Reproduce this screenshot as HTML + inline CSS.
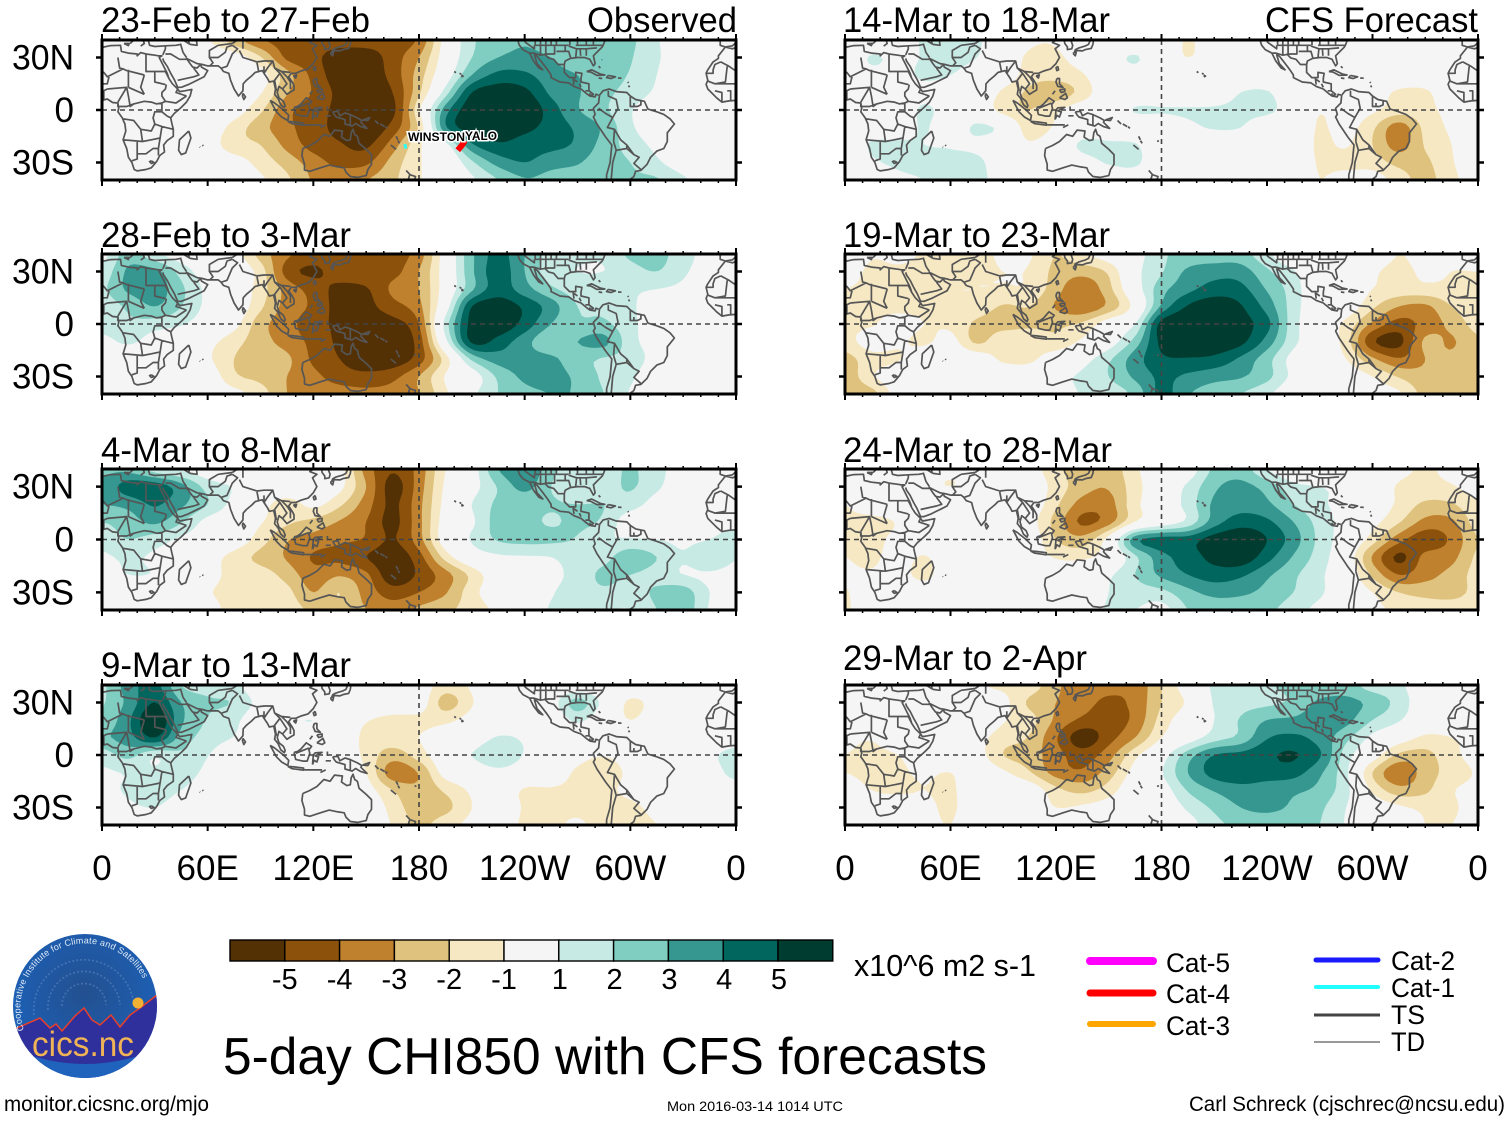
<!DOCTYPE html>
<html lang="en">
<head>
<meta charset="utf-8">
<title>5-day CHI850 with CFS forecasts</title>
<style>
html,body{margin:0;padding:0;background:#fff;}
svg{display:block;font-family:"Liberation Sans",Arial,sans-serif;}
</style>
</head>
<body>
<svg id="chart" width="1510" height="1121" viewBox="0 0 1510 1121"></svg>
<script>
/* ---------- DATA: CHI850 anomaly grids, rows 40N..40S every 10 deg, columns 0..360 every 15 deg ---------- */
const periodLabels = ["23-Feb to 27-Feb","28-Feb to 3-Mar","4-Mar to 8-Mar","9-Mar to 13-Mar","14-Mar to 18-Mar","19-Mar to 23-Mar","24-Mar to 28-Mar","29-Mar to 2-Apr"];
const contourLevels = [1,2,3,4,5];
const colorbarLabels = ["-5","-4","-3","-2","-1","1","2","3","4","5"];
const lonTickLabels = ["0","60E","120E","180","120W","60W","0"];
const lonTickValues = [0,60,120,180,240,300,360];
const latTickLabels = ["30N","0","30S"];
const latTickValues = [30,0,-30];
const latRows = [40,30,20,10,0,-10,-20,-30,-40];

const chiFeb23 = [
[0,0,0,0,-.9,-2.6,-3.9,-4.4,-4.5,-4.5,-4.5,-4.5,-3.8,-.5,1.8,2.5,2.9,2.5,2.3,2.3,2.2,1.1,.3,-.5,0],
[0,0,0,0,0,-.3,-1.9,-4.2,-4.7,-5.6,-5.6,-4.5,-3,-.3,2,3,3.3,3,2.5,3,2.1,1.1,.5,-1,0],
[0,0,0,0,0,0,-.5,-2.6,-4.3,-5.6,-5.7,-4.6,-2.5,.2,3,4.3,4.2,3.4,3,2.6,1.9,1,.3,0,0],
[0,-1,0,0,0,0,-.9,-2.9,-4.1,-5.3,-5.8,-5,-2.2,1.5,5,5.6,5.3,3.8,3.1,2.3,1.6,.8,0,0,0],
[0,0,0,0,0,-.4,-1.8,-3.7,-4.5,-5.3,-5.8,-5.3,-1.2,3.5,5.7,5.9,5.9,4.5,3.1,2.2,1.1,.2,0,0,0],
[0,0,0,0,-.2,-1.4,-2.6,-3.7,-4.6,-5.3,-5.8,-4.6,-1.8,3.8,5.6,5.8,5.3,4.6,3.8,2.8,1.2,.3,0,0,0],
[0,0,0,0,-.4,-1.6,-2,-3.3,-4.4,-4.9,-5.2,-3.5,-1.2,.6,3.8,4.8,4.5,4.3,3.8,2.6,1.6,.7,0,0,0],
[0,0,0,0,0,-.4,-1.4,-2.4,-3.5,-4.3,-4.2,-2.6,-1.1,-.3,1.8,3.4,4,3.4,3.1,2.3,2,1.2,.3,0,0],
[0,0,0,0,0,0,-.8,-1.8,-3.1,-3.2,-3,-2.2,-1.1,-.2,.8,2,2.9,2.6,2.4,2.2,2.1,2.1,1.2,.3,0]];

const chiFeb28 = [
[.6,2.5,1.2,.4,0,-.5,-2.4,-3.8,-4.4,-4.4,-4.4,-4.4,-3.5,-.3,2.8,4.3,3,1.5,1.2,1.2,2.2,2.3,1.5,.5,.6],
[1.3,3.2,3.3,1.6,.4,0,-1.5,-4.4,-5.2,-4.4,-4.2,-4.3,-3,-.3,2.8,4.5,3,1.4,1,1,1.6,2,1.2,.3,0],
[1.8,3.2,3.5,2.2,.7,0,-1.5,-3.4,-4.4,-5.3,-5.1,-3.8,-3,-.3,2.8,4.5,3.4,2.2,1.6,1.8,1.2,1,.7,0,0],
[1.4,2.2,3,2,.7,0,-1.8,-3.4,-4.2,-5.4,-5.3,-4.4,-3.3,.3,5,5.6,4.8,3.5,2,1.8,1.2,.3,0,0,.3],
[1.5,1.8,1.5,1.1,.3,-.6,-2.6,-3.6,-4.6,-5.2,-5.4,-5.4,-4,1.4,5.4,5.8,4.6,3,2.2,2.2,1.3,.3,0,0,1],
[.6,1.2,.4,0,-.6,-1.6,-2.6,-3.4,-4.3,-5.2,-5.5,-5.7,-4.5,.6,5.2,4.6,3.4,2.2,3,3.3,1.4,.5,.3,.1,.8],
[0,0,0,0,-.8,-2,-2.4,-2.8,-4.2,-5,-5.6,-5.7,-4.5,-1.5,2.2,3.5,3.4,3.2,2.4,1.9,1.6,.5,0,0,0],
[0,0,0,0,-.2,-1.8,-2.3,-3,-3.7,-4.5,-4.7,-4.3,-3,-.9,.3,2.2,3.2,3.3,2.8,1.8,1.2,.1,0,0,0],
[0,0,0,0,-.1,-.6,-1.5,-3,-3.3,-3.5,-3.7,-3.6,-3,-1.2,.7,2,2.7,3,2.9,2,.9,.2,0,0,0]];

const chiMar04 = [
[2.8,2.7,1.5,.8,.2,0,0,0,0,-.6,-3.4,-4.9,-3.6,-1,.4,3,3.9,2.3,1.2,1.5,2.1,1.4,.3,0,0],
[3.2,4.5,4.6,3.4,1.6,.9,0,0,0,-.7,-3,-5.4,-3.5,-.8,.5,2.1,3.3,2,1.2,1.5,2.1,1.2,.2,0,0],
[3,3.3,4.1,3.2,2,.6,-.5,-1.5,-.7,-1.8,-3.5,-5.2,-3.3,-.6,1,2.2,2.3,2.1,2,2,1.5,.5,0,0,0],
[2,2.5,3.2,2.1,.6,0,-.9,-1.8,-2.3,-3.1,-4,-5.3,-3.3,-.4,.8,2.4,2.3,1.9,2.2,1.8,.3,.3,.7,.5,.5],
[1.4,2,1.5,.8,.3,-.2,-1.5,-2.9,-3.4,-3.8,-4.1,-5.1,-3.4,-.3,1.1,2.1,2.3,2.2,1.9,1.1,1.1,1,.8,1,1.6],
[.8,1.2,.8,.4,-.4,-1.4,-2.3,-3.1,-4.1,-4.3,-5,-5.7,-4.4,-1.6,.2,.8,.9,1,1.5,1.7,2.6,2,1.1,2,1.1],
[.3,1,.9,.1,-.6,-1.3,-1.5,-2.4,-3.6,-3.1,-3.8,-5.7,-4.8,-3.4,-1.7,-.1,.5,.7,1.4,2.2,2,1.6,1,.8,.5],
[0,0,0,0,-.9,-1.2,-1.2,-1.7,-3,-2,-3.4,-4.5,-4,-3.1,-1.4,-.2,.2,.9,1.5,1.8,1.5,2.2,2.5,1,.3],
[0,0,0,0,-.6,-1.3,-1.3,-1.5,-2.2,-2.3,-3,-3.5,-2.8,-2.2,-1.6,-.7,.1,1.1,1.2,1.1,1,2,2.6,.9,.2]];

const chiMar09 = [
[1.8,3.5,4.3,2,1.5,1.3,0,0,0,0,-.2,-.5,-.3,-1.5,-.8,.7,.7,0,0,0,0,0,1.1,.3,0],
[1.9,3.3,5,3,2.2,1.9,.6,0,0,0,0,-.2,-.3,-2.4,-1.1,.5,.3,.5,2.4,.6,-1.2,-.5,0,0,0],
[2.2,3.8,6,3.2,1.9,1.3,.1,.7,1,0,-.9,-1.3,-1.3,-1.3,-.5,0,0,0,1.2,0,-1,-.2,0,0,.5],
[2.8,3.6,5,2.6,1.6,.95,0,0,0,0,-1.3,-1.4,-1,-.1,.1,1.1,.8,0,0,0,0,0,0,0,.3],
[1.5,2.3,1.2,1.8,1.05,0,0,0,0,0,-1.3,-2.5,-1.5,0,1,2,.9,0,-.5,-.9,-.3,0,0,.7,1.5],
[.8,1.1,1.2,1.5,.7,0,0,-1,-.5,-.1,-1,-3.6,-2.9,-.5,0,.6,.1,-.3,-1.2,-1.9,-.6,0,0,.3,1.5],
[.5,1.2,1.6,1,.3,0,0,-.2,-.1,0,-.5,-2,-2.8,-1.8,-.8,-.2,-1.1,-1.1,-1.2,-1.3,-.6,0,0,0,.2],
[0,.7,1,.2,0,0,0,0,0,0,0,-1.4,-2.6,-2.3,-1,-.2,-1.1,-1.2,-1.3,-1.6,-1.3,-.6,0,0,0],
[0,0,0,0,0,0,0,0,0,0,0,-1.1,-2.2,-1.4,-.7,-.3,-1.2,-1.3,-.8,-1.5,-1.2,-1,0,0,0]];

const chiMar14 = [
[0,0,.2,1.2,2,1.2,.1,-.8,-.9,-.2,0,0,-.1,-1.1,-.3,0,0,0,.6,0,0,0,.2,.8,0],
[0,1.1,.7,1.1,1.8,1,-.1,-1.2,-1.2,-.4,.4,1.1,0,-1,-.2,0,0,0,0,0,0,0,0,0,0],
[0,.6,.5,1.2,1,0,-.2,-1.5,-1.6,-1.1,.1,.5,0,0,0,0,0,0,0,0,0,0,0,0,0],
[0,0,0,.6,.1,0,-1.2,-2.2,-2.6,-1.6,0,0,0,0,0,1,1.1,0,0,0,-.3,-1.2,-1.2,0,0],
[.6,.4,0,1.2,.3,0,-1.4,-2,-1.2,-.2,0,1.1,1.1,1.1,1.2,1.3,1.3,.2,-.9,-.3,-.8,-1.5,-1.3,-.6,0],
[1,.5,.3,1.1,.2,1.2,.6,-1.6,-.8,.2,.1,0,.1,.7,1.1,1,0,0,-1.1,-.6,-1.8,-3.5,-1.7,-.8,0],
[.2,1.1,1.2,1,.9,.7,0,-.8,0,1.2,1.2,1.1,0,0,0,0,0,0,-1.2,-.9,-2,-3.4,-1.9,-1,0],
[0,.8,1.2,1.3,1.2,1.3,.1,0,0,.5,1.1,1.2,0,0,0,0,0,-.3,-1.1,-1.4,-1.5,-2.3,-2.2,-1.1,-.2],
[0,0,.7,1,1.2,1.4,.3,0,0,0,0,.2,0,0,0,0,0,0,-1,-.4,-.4,-1.5,-2.3,-1.3,-.3]];

const chiMar19 = [
[0,-.9,-.7,-1.1,-1.3,-1.2,-.9,-.9,-2,-1.2,-.3,.5,1.8,2.3,2.4,2.4,1.2,0,0,0,-.2,-1,-.6,-.9,-.6],
[-.5,-1.2,-1.2,-1.3,-1.3,-1.2,-1,-1.1,-2.3,-2.6,-1.8,.6,1.9,3.2,3.6,3.5,2.2,1.1,0,0,-.8,-1.3,-.8,-1,-1],
[-1,-1.2,-1.3,-1.8,-1.1,-1,-1.1,-1.2,-2.6,-3.8,-2.3,.3,2.6,3.7,4.4,4.3,2.9,1.5,0,0,-1,-1.4,-1.3,-1.2,-1.2],
[-1.2,-1.3,-1.3,-1.3,-1.1,-1.4,-2.1,-2,-3.1,-3.8,-2.7,-.5,3.2,5.1,5.7,5.1,3.6,1.5,0,-.2,-1.8,-3,-3.2,-2,-1.3],
[-1.2,-1.1,-.5,-1,-1.2,-2.2,-2.4,-2.2,-2.2,-1.8,-.3,1,5.4,6,6,5.4,4.3,1.4,0,-1.3,-3.2,-4.4,-3.6,-2.7,-1.6],
[-1.4,-.5,-.8,-1.2,-.6,-2.2,-1.2,-1.2,-1.7,-.8,.3,2.4,5.3,6,5.9,5.3,3.6,1.3,0,-1.5,-4.8,-5.3,-2.8,-3.1,-2.2],
[-2.4,-1.4,-1.1,-.1,0,-.2,-1.2,-1.2,-.3,.5,1.8,3.5,4.8,4.9,4.7,3.8,2.4,.6,0,-1,-2.8,-3.9,-3,-2.8,-2.4],
[-2.7,-1.2,-.2,0,0,0,0,-.2,.6,1.2,2,3.2,4.2,3.8,3.4,3.1,2.3,.7,0,-.3,-1,-2.1,-2.8,-2.7,-2.6],
[-2.6,-2.4,-.5,0,0,0,0,0,.3,1.1,1.3,2.3,4.3,3.1,2.4,2,1.2,.1,0,-.8,-.6,-.8,-2.4,-2.8,-2.7]];

const chiMar24 = [
[0,-.2,0,-.7,-.8,-.9,-.2,-.5,-1.7,-2.7,-2.7,-1.2,-.2,.3,2.2,2.5,1,0,0,0,0,-.7,-1.1,-.7,-.2],
[-.2,0,0,-.6,-1,-.5,0,-.2,-1.4,-2.6,-2.9,-1.4,0,1.2,2.8,3.3,2.6,1.3,1,.7,-.2,-1.1,-1.3,-1.1,-.5],
[-1,-.2,0,0,0,0,0,-.2,-1.8,-3.4,-3.4,-1.3,0,1.4,3.2,3.6,3.2,2,1.2,.6,-.2,-1.2,-2.2,-2.1,-1.1],
[-1.2,-1.4,-.9,0,0,-.3,-.6,-.6,-2.4,-4.2,-3.4,-1,.2,1.3,3.5,4.5,4.2,3,1.6,.5,-.6,-1.9,-3.3,-3.2,-1.5],
[-1.5,-1.4,-.6,0,0,0,0,-.2,-2,-2.6,-.5,3.6,4.4,4.5,5.5,5.9,5,3.5,1.7,.3,-1.5,-3.6,-4.6,-3.8,-2],
[-1,-1.3,-.4,-1.1,0,-.3,-.3,-.3,-1.1,-1.2,-.4,1.8,3.6,4.5,5.3,5.7,4.4,2.9,1.5,-.1,-3.1,-5.2,-3.7,-3.3,-1.8],
[-.8,-.8,-.4,-1.4,0,-.8,-.9,0,-.2,0,.8,2,3.2,4,4.5,4.2,3.2,2.2,1.2,0,-2.2,-4,-3.3,-2.7,-1.6],
[-1.1,-.2,0,0,0,0,0,0,0,0,1,1.5,1.7,2.7,3.3,3.2,2.7,2,1.2,-.1,-1,-2,-2.4,-2.5,-1.6],
[-1.2,-.1,0,0,0,0,0,0,0,.4,1.1,1,.6,2,2.4,2.4,2.2,1.5,.6,-.3,-.8,-1.1,-1.2,-1.2,-1.3]];

const chiMar29 = [
[0,0,0,0,-.5,-.9,-1.2,-1.4,-2.8,-3.5,-3.7,-3.7,-2,-.3,1.2,1.4,1.9,2.2,2.2,2.4,1.5,1.2,.2,.3,0],
[0,0,0,0,0,-.4,-.7,-2.2,-3,-3.6,-4.2,-3.7,-2,-.8,1.1,1.6,1.8,2.2,3.2,3.3,2.7,1.6,.2,0,0],
[0,0,0,0,0,0,-.9,-1.6,-3.2,-4.2,-4.5,-3.7,-1.6,-.2,1,2.1,3,3.2,3.6,3.3,2,1.1,0,0,0],
[-.7,-.9,-.3,0,0,-.6,-1.5,-2.1,-3.9,-5.6,-4.4,-3,-1,.3,1.5,2.3,3.9,4.2,3.6,2.3,.7,-.3,-1.2,-1,-.6],
[-1,-1.2,-1,-.3,0,-.5,-2,-2.5,-3.6,-4.5,-3.4,-1.3,.4,2.5,4,4.3,4.8,5.1,4.1,1.5,-.3,-2.2,-2.3,-1.3,-.6],
[-1,-1.3,-1.2,-.8,-1,-.1,-.8,-1.9,-3.4,-3.8,-2.5,-.5,.9,3,4.4,4.7,4.6,4.4,3.2,1.2,-2,-3.8,-2.5,-1.6,-.9],
[-.3,-1,-1.2,-1,-1.2,0,0,-.2,-1.7,-2.3,-1.5,0,.4,2.1,3.1,3.6,3.4,3.2,2.7,1.3,-1.2,-2.6,-2.2,-1.1,-.7],
[0,-.2,-.2,-.6,-1.2,0,0,0,-1,-.8,-.4,0,0,1.2,2.2,3,3.3,2.8,2.2,1,-.1,-.8,-1.2,-1.2,-.3],
[0,0,0,-.6,-1,-.1,0,0,0,0,0,0,0,.5,1.7,2.2,2.2,2.2,2,.9,0,-.3,-1,-1,-.4]];

const panelGrids = [chiFeb23,chiFeb28,chiMar04,chiMar09,chiMar14,chiMar19,chiMar24,chiMar29];

/* Tropical cyclone labels and short tracks in the first panel (lon, lat). */
const stormNames = ["WINSTON","YALO"];
const winstonTrack = [[172,-19.5],[172.5,-22]];
const yaloTrack = [[206,-17.5],[204.5,-20],[202,-23]];

/* Geography as lon/lat polylines. */
const coastlines = [
[[-6,36],[-10,31],[-10,29.5],[-13,27.5],[-16,23],[-17,21],[-16,17],[-17,14.7],[-16,12],[-13.5,9.5],[-11,7],[-8,4.5],[-4,5.2],[0,5.5],[3,6.3],[6,4.3],[9,4],[9.5,1],[9,-1],[11.5,-4.5],[13,-8],[13.5,-12],[12,-17],[14,-22],[15,-27],[17,-30],[18.3,-34],[20,-34.8],[25,-34],[28,-33],[31,-29.5],[32.8,-26],[35.5,-24],[35,-20],[37,-17.5],[40.5,-15],[40.5,-11],[39.5,-7],[39,-4.5],[41,-2],[45,1.5],[48,4.5],[50,8],[51,11.8],[47,11],[44,10.5],[43,12],[40,15],[38,18],[37,21],[35.5,24],[33.5,28],[32.5,30],[34,31],[32,31],[30,31.3],[25,32],[22,32.8],[20,31],[20,32],[15,32.5],[11,33.5],[10.5,37],[5,36.8],[0,35.8],[-2,35],[-6,36]],
[[34.5,29.5],[35,28],[37,25],[39,21],[41,17.5],[43,13],[45,13],[49,14.5],[52,16],[55,17.5],[58,19],[60,22.5],[56.5,24.5],[56,26],[54,24],[51.5,24.5],[50,26.5],[48,29.5],[51,28],[54,26.5],[57,26],[60,25.2],[66,25.2],[67.5,24],[69,22],[72,21],[73,17],[75,12],[77.5,8],[80,11],[80.2,15],[82,17],[85,19.5],[87,21.5],[89,22],[91,22.5],[92,21],[94,18],[95,16],[97.5,16.5],[98.5,12],[98,9],[100,6.5],[101.5,3],[103.5,1.3],[104,2.5],[103,5],[100.5,7],[99.5,10],[100.5,13.5],[102.5,12],[105,9],[106.5,10],[109,11.5],[109,14],[108,16],[106,19],[107.5,21],[110,21],[113,22.3],[117,23.5],[120,26.5],[122,30],[121,32],[119.5,35],[122,37],[118,38.5],[121.5,41]],
[[124.5,41],[125,38],[126.5,36],[126.5,34.5],[129,35],[129.5,37],[128,41]],
[[130.5,33],[132,34],[135,33.8],[137,34.6],[140,35.2],[141,37.5],[141.5,41]],[[140,41],[138.5,37.5],[136.5,36.5],[133,35.5],[131,34.4],[130.5,33]],[[130,33],[131.5,33],[131,31],[130,32],[130,33]],
[[34.5,31.5],[36,35],[36,36.7],[30,36.3],[27,37],[26,41]],[[50,37.5],[54,37],[53.5,41]],[[49,41],[49.5,38],[50,37.5]],[[22,36.5],[24,38],[23,41]],[[16,38],[18,40],[16,41]],[[-6,36],[-2,36.7],[0,38.5],[0,41]],[[-6,36],[-9,37],[-9,41]],[[12.5,38],[15.5,38],[15,36.8],[12.5,38]],
[[80,9.5],[81.5,7.5],[80.5,6],[79.8,8],[80,9.5]],[[121,25],[121.5,23],[120.5,22.5],[120,24],[121,25]],[[108.7,19.5],[110.5,20],[110,18.3],[108.7,19.5]],
[[120.5,18],[122,18],[122,15],[124,13],[121,13.5],[120,16],[120.5,18]],[[122,7],[125.5,9.5],[126.5,7],[125,6],[122,7]],[[122,11.5],[125,12],[125,10.5],[123,10],[122,11.5]],[[118,9],[119.5,11]],
[[109,1.5],[111,2],[113,3.5],[116,7],[119,5],[117.5,3],[118,1],[116.5,-3.5],[114,-3.5],[110,-2.5],[109,1.5]],
[[95.5,5.5],[98,4],[103,0],[106,-3],[105.5,-6],[102,-4],[99,-1],[95.5,5.5]],
[[105.5,-6.5],[109,-6.8],[114.5,-7.5],[114.5,-8.7],[108,-7.8],[105.5,-6.5]],[[115,-8.5],[120,-8.5],[125,-8.5]],[[124,-10],[127,-8.5]],
[[119.5,-5.5],[120,0],[121,1.2],[125,1.5],[121,-.5],[123,-1],[122,-4],[120.5,-3],[119.5,-5.5]],[[128,2],[128,-.5]],[[127,-3.3],[130,-3.3]],
[[131,-1],[134,-.8],[135,-3.3],[138,-1.7],[141,-2.6],[145,-4.5],[147.5,-6],[147,-7],[150.5,-10.5],[147,-9.5],[144,-7.7],[142,-9.2],[138,-8],[138,-5.5],[133,-4],[132,-2.8],[131,-1]],
[[148,-5.7],[152,-4.3],[151,-6],[148,-5.7]],[[155,-6],[157,-8]],[[158,-8],[160.5,-9.5]],[[161,-9.5],[162,-10.5]],[[167,-15],[168,-17]],[[168,-17.5],[169,-19]],[[164,-20],[167,-22.5]],[[177.5,-18],[178.5,-17.5]],
[[172.7,-34.5],[175,-37],[178,-38],[177,-41]],[[174,-41],[174,-39.5],[174.7,-37]],
[[114,-22],[113.5,-26],[115,-31],[115,-34.3],[118,-35],[124,-33],[129,-31.5],[134,-32.5],[137.5,-33],[138.5,-35.5],[141,-38],[145,-38.5],[150,-37.5],[151,-34],[153,-31],[153,-25.5],[150,-22.5],[146,-19],[145,-15],[143.5,-14],[142.5,-11],[141.5,-13],[141,-17],[139,-17.5],[136,-15.5],[136.5,-12],[132,-11.5],[129.5,-15],[126,-14],[122,-18],[118,-20.3],[114,-22]],
[[49.3,-12],[50.5,-16],[47.5,-24.5],[45,-25.5],[43.5,-23],[44,-17],[49.3,-12]],[[57,-20],[57.5,-20.5]],[[55.5,-21],[55.7,-21.3]],
[[200,22],[201,21.3]],[[203,21],[204,20.5]],[[204,20],[205,19.3],[204,19]],
[[235.7,41],[237,37],[239,34.5],[242.8,32.5],[245,28],[248,24],[250.3,23],[247,26.5],[245.5,31.5],[247,30.8],[250,27],[253,23],[255,20],[255,18.5],[260,16],[265,15.5],[268,13.5],[272,12],[275,9.5],[277,8],[280,7.5],[280.5,9],[282,8.5]],
[[277,8],[279,9],[276.5,11],[276.5,15],[272,16],[272,18],[272.5,21],[269,21.5],[269,18.5],[265.5,18.5],[262.5,21.5],[262.5,26],[263,28],[266,29.5],[270,30],[274,30],[277,29],[277.5,28],[279,25.2],[280,26.5],[279,31],[282,34],[284,36],[285,38],[286,41]],
[[275.2,22],[278,23],[283,20.5],[285.5,20],[281,19.8],[277.5,21.7],[275.2,22]],[[287.5,19.8],[291.5,19],[289,18],[286.5,18.5],[287.5,19.8]],[[282,18.3],[284,18]],[[293,18.3],[295,18.2]],[[282,25],[283,24]],[[299,14],[299.5,13]],[[298.5,16],[299,15.5]],
[[282.5,8.5],[284.5,11],[288,12],[292,10.5],[298,10],[300,8],[303,6],[308,5],[310,.5],[315,-1],[319,-2.5],[322.5,-5],[325,-8],[321,-13],[321,-18],[319,-22],[315,-23.5],[311.5,-27],[309.5,-31],[306,-34.5],[303,-35],[302,-38],[298,-41]],
[[286.5,-41],[286.5,-37],[288.5,-30],[289.5,-20],[286,-15.5],[281,-8],[279,-4],[280,-2.5],[279,1],[282,4],[282.5,8.5]]
];
const borders = [
[[-8.7,27.5],[-4,25],[1,21.5],[3,19],[12,23.5],[14,22.5],[24,20]],[[9,30],[10,24],[12,23.5]],[[25,32],[25,22],[37,22]],[[24,20],[22,13],[24,9]],[[15,23],[15,13]],[[3,12],[14,13]],[[9,4.5],[14,13],[15,8],[16,2],[18,3.5],[24,5],[28,4.5],[31,3.5],[34,4],[36,5],[42,4],[48,8]],[[-12,15],[-5,15],[3,15],[4,19]],[[-17,21],[-13,21],[-13,23],[-12,26],[-8.7,27.5]],[[-5,25],[-6,16],[-12,15],[-16,16.5]],[[-3,5],[-3,11],[-5,11]],[[1,6],[1,11],[3,12]],[[-8,4.5],[-8,10],[-12,11]],[[36.5,14.5],[36,12],[34,10],[34,8],[36,5]],[[34,4],[34,-1],[37,-3.5],[39.5,-4.7]],[[34,-1],[30,-1],[29,-4.5],[30,-8],[34,-9.5],[40.5,-11]],[[12,-5],[18,-6],[22,-11],[28,-12],[30,-8]],[[12,-17],[23,-18],[22,-11]],[[20,-18],[20,-28],[17,-29]],[[23,-18],[28,-17],[33,-16],[34,-9.5]],[[20,-25],[25,-25],[29,-22],[32,-22],[33,-16]],[[32,-22],[32,-26]],[[28,-29],[29.5,-30],[28,-30.5],[27,-29.5],[28,-29]],[[43,12],[42,10],[48,8]],[[9,4.5],[9,2],[14,2],[18,3.5]],[[15,13],[24,9]],[[36,22],[38,18]],[[30,22],[30,16],[36,14.5]],
[[48,30],[46,33],[44.5,38]],[[48,29],[44,29],[39,32],[36,32]],[[36,36.7],[42,37],[44.5,37.5]],[[61,25],[63,27],[61,30],[61,34],[66,37]],[[68,24],[71,25],[74,32],[77,35],[74,37]],[[61,30],[66,30],[70,33],[71,36],[74,37]],[[43,17],[52,19],[55,20],[52,24]],[[78,34],[80,30],[88,27.5],[92,28],[97,28]],[[88,27],[89,22]],[[92,25],[92,21]],[[92,21],[94,24],[97,28],[98,24],[101,21],[98,17],[99,11]],[[102,22],[105,19],[107,16],[107,12]],[[101,21],[105,15],[102.5,12]],[[74,38],[80,42]],[[110,1],[115,3],[117.5,4]],[[141,-2.6],[141,-9]],[[46,40],[50,37.5]],[[66,37],[74,38]],[[80,42],[80,35]],[[98,24],[102,22],[107,21.5]],
[[246,37],[265,37]],[[243,32.5],[245,32.5],[249,31.3],[251.5,31.8],[253.5,29.8],[256.5,29],[259,26],[262.8,26]],[[251,31.8],[253.5,32],[257,32],[257,37]],[[249,31.3],[249,41]],[[246,37],[246,41]],[[255,37],[255,41]],[[258,37],[258,41]],[[252,32],[252,41]],[[263,33.5],[263,37]],[[265.6,37],[265.6,41]],[[265,36.5],[269.5,35],[269,30]],[[269,35],[275,35],[281,35.5]],[[271.5,35],[271.8,31]],[[275,35],[275,31]],[[269,37],[285,37]],[[240,39],[245.5,35],[245.5,37]],[[240,39],[240,41]],[[258,33.5],[265,33.5],[266,30]],[[275,37],[275,41]],[[270,37],[270,41]],[[279,37],[279,41]],
[[267.5,18],[268,14.5]],[[271,15],[272,13]],[[277,11],[274.5,11]],[[277,8],[277,9.5]],[[268,17.5],[270,16]],
[[287.5,11],[287.5,8],[292,6],[293,1],[290,-4.3],[286,-2],[282,1]],[[290,-4.3],[287,-10],[291,-11],[294.5,-17],[298,-20],[302,-25.5],[305,-27],[302,-30.5],[306,-34]],[[290.5,-18],[292,-23],[290,-30],[289,-41]],[[291,-11],[290.5,-18]],[[292,-23],[298,-22],[302,-25.5]],[[300,8],[300,2],[304,2],[306,3],[306,5]],[[298,-22],[298,-20]],[[302,4],[302,2]]
];

/* ---------- LAYOUT AND STYLE ---------- */
const svg = document.getElementById('chart');
const SVGNS = svg.namespaceURI;
const bandColorsNeg = ['#f6e8c3','#dfc27d','#bf812d','#8c510a','#543005'];
const bandColorsPos = ['#c7eae5','#80cdc1','#35978f','#01665e','#003c30'];
const panelFrames = [
 {x:102,y:40,w:634,h:140,tx:101,tw:269,ty:32},
 {x:102,y:254,w:634,h:140,tx:101,tw:250,ty:247},
 {x:102,y:469,w:634,h:141,tx:101,tw:230,ty:462},
 {x:102,y:685,w:634,h:140,tx:101,tw:250,ty:677},
 {x:845,y:40,w:633,h:140,tx:843,tw:267,ty:32},
 {x:845,y:254,w:633,h:140,tx:843,tw:267,ty:247},
 {x:845,y:469,w:633,h:141,tx:843,tw:269,ty:462},
 {x:845,y:685,w:633,h:140,tx:843,tw:244,ty:670}
];
const STEP = 4;

function make(tag, parent){
  const el = document.createElementNS(SVGNS, tag);
  (parent || svg).appendChild(el);
  return el;
}
function addText(parent, str, x, y, size, width, anchor){
  const t = make('text', parent);
  t.textContent = str;
  t.setAttribute('x', x);
  t.setAttribute('y', y);
  t.setAttribute('font-size', size);
  t.setAttribute('fill', '#000');
  if(anchor) t.setAttribute('text-anchor', anchor);
  if(width){ t.setAttribute('textLength', width); t.setAttribute('lengthAdjust', 'spacingAndGlyphs'); }
  return t;
}
function addLine(parent, x1, y1, x2, y2, color, w){
  const l = make('line', parent);
  l.setAttribute('x1', x1); l.setAttribute('y1', y1);
  l.setAttribute('x2', x2); l.setAttribute('y2', y2);
  l.setAttribute('stroke', color); l.setAttribute('stroke-width', w);
  return l;
}
function catmull(p0,p1,p2,p3,t){
  return 0.5*((2*p1)+(-p0+p2)*t+(2*p0-5*p1+4*p2-p3)*t*t+(-p0+3*p1-3*p2+p3)*t*t*t);
}
function sampleGrid(grid, lon, lat){
  const nr = grid.length, nc = grid[0].length;
  const cf = lon/15, rf = (latRows[0]-lat)/10;
  const c = Math.min(nc-2, Math.max(0, Math.floor(cf))), r = Math.min(nr-2, Math.max(0, Math.floor(rf)));
  const tc = cf-c, tr = rf-r;
  const rows = [];
  for(let j=-1;j<=2;j++){
    const row = grid[Math.min(nr-1, Math.max(0, r+j))];
    const pick = k => row[Math.min(nc-1, Math.max(0, c+k))];
    rows.push(catmull(pick(-1),pick(0),pick(1),pick(2),tc));
  }
  return catmull(rows[0],rows[1],rows[2],rows[3],tr);
}
function bandPath(field, nx, ny, fr, sign, level){
  const parts = [];
  const R = v => Math.round(v*10)/10;
  for(let j=0;j<ny;j++){
    const y0 = fr.y+j*STEP, y1 = Math.min(fr.y+fr.h, y0+STEP);
    for(let i=0;i<nx;i++){
      const x0 = fr.x+i*STEP, x1 = Math.min(fr.x+fr.w, x0+STEP);
      const q = [[x0,y0,sign*field[j][i]-level],[x1,y0,sign*field[j][i+1]-level],[x1,y1,sign*field[j+1][i+1]-level],[x0,y1,sign*field[j+1][i]-level]];
      if(q.every(p=>p[2]<0)) continue;
      if(q.every(p=>p[2]>=0)){
        parts.push('M'+x0+' '+y0+'H'+x1+'V'+y1+'H'+x0+'Z');
        continue;
      }
      const poly = [];
      for(let k=0;k<4;k++){
        const P = q[k], Q = q[(k+1)%4];
        if(P[2]>=0) poly.push([P[0],P[1]]);
        if((P[2]>=0)!==(Q[2]>=0)){
          const t = P[2]/(P[2]-Q[2]);
          poly.push([P[0]+(Q[0]-P[0])*t, P[1]+(Q[1]-P[1])*t]);
        }
      }
      if(poly.length>=3) parts.push('M'+poly.map(p=>R(p[0])+' '+R(p[1])).join('L')+'Z');
    }
  }
  return parts.join('');
}
function geoPath(lines, xOf, yOf){
  let d = '';
  for(const offset of [0,360]){
    for(const line of lines){
      d += 'M'+line.map(p=>(Math.round(xOf(p[0]+offset)*10)/10)+' '+(Math.round(yOf(p[1])*10)/10)).join('L');
    }
  }
  return d;
}

/* ---------- PANELS ---------- */
panelFrames.forEach(function(fr, idx){
  const grid = panelGrids[idx];
  const xOf = lon => fr.x + lon*fr.w/360;
  const yOf = lat => fr.y + (40-lat)*fr.h/80;

  const g = make('g');
  
  

  const clip = make('clipPath', g);
  clip.setAttribute('id', 'panel-clip-'+idx);
  const cr = make('rect', clip);
  cr.setAttribute('x', fr.x); cr.setAttribute('y', fr.y);
  cr.setAttribute('width', fr.w); cr.setAttribute('height', fr.h);

  const bg = make('rect', g);
  bg.setAttribute('x', fr.x); bg.setAttribute('y', fr.y);
  bg.setAttribute('width', fr.w); bg.setAttribute('height', fr.h);
  bg.setAttribute('fill', '#f5f5f5');
  
  

  const nx = Math.ceil(fr.w/STEP), ny = Math.ceil(fr.h/STEP);
  const field = [];
  for(let j=0;j<=ny;j++){
    const row = [];
    const py = Math.min(fr.h, j*STEP);
    for(let i=0;i<=nx;i++){
      const px = Math.min(fr.w, i*STEP);
      row.push(sampleGrid(grid, px*360/fr.w, 40-py*80/fr.h));
    }
    field.push(row);
  }
  contourLevels.forEach(function(level, li){
    const neg = make('path', g);
    neg.setAttribute('d', bandPath(field, nx, ny, fr, -1, level));
    neg.setAttribute('fill', bandColorsNeg[li]);
    
    
    const pos = make('path', g);
    pos.setAttribute('d', bandPath(field, nx, ny, fr, 1, level));
    pos.setAttribute('fill', bandColorsPos[li]);
    
    
  });

  const geo = make('path', g);
  geo.setAttribute('d', geoPath(coastlines.concat(borders), xOf, yOf));
  geo.setAttribute('fill', 'none');
  geo.setAttribute('stroke', '#555');
  geo.setAttribute('stroke-width', '1.7');
  geo.setAttribute('stroke-linejoin', 'round');
  geo.setAttribute('clip-path', 'url(#panel-clip-'+idx+')');
  
  

  const eq = addLine(g, fr.x, yOf(0), fr.x+fr.w, yOf(0), '#444', 1.6);
  eq.setAttribute('stroke-dasharray', '5 4');
  
  
  const dl = addLine(g, xOf(180), fr.y, xOf(180), fr.y+fr.h, '#444', 1.6);
  dl.setAttribute('stroke-dasharray', '5 4');
  
  

  for(let lon=0;lon<=360;lon+=10){
    const major = lon%60===0, len = major?6:3, w = major?2:1.5;
    const top = addLine(g, xOf(lon), fr.y-len, xOf(lon), fr.y, '#000', w);
    
    
    const bot = addLine(g, xOf(lon), fr.y+fr.h, xOf(lon), fr.y+fr.h+len, '#000', w);
    
    
  }
  latTickValues.forEach(function(lat, i){
    const l = addLine(g, fr.x-6, yOf(lat), fr.x, yOf(lat), '#000', 2.5);
    
    
    const r = addLine(g, fr.x+fr.w, yOf(lat), fr.x+fr.w+6, yOf(lat), '#000', 2.5);
    
    
    if(idx<4){
      const t = addText(g, latTickLabels[i], 74, yOf(lat)+12, 35, latTickLabels[i].length>1 ? 62 : null, 'end');
      
      
    }
  });

  const frame = make('rect', g);
  frame.setAttribute('x', fr.x); frame.setAttribute('y', fr.y);
  frame.setAttribute('width', fr.w); frame.setAttribute('height', fr.h);
  frame.setAttribute('fill', 'none');
  frame.setAttribute('stroke', '#000');
  frame.setAttribute('stroke-width', '3');
  
  

  const title = addText(g, periodLabels[idx], fr.tx, fr.ty, 35, fr.tw);
  
  

  if(idx===3 || idx===7){
    lonTickValues.forEach(function(lon, i){
      const t = addText(g, lonTickLabels[i], xOf(lon), 880, 35, null, 'middle');
      
      
    });
  }
  if(idx===0){
    const obs = addText(g, 'Observed', 737, 32, 35, 150, 'end');
    
    
    const tr1 = make('path', g);
    tr1.setAttribute('d', 'M'+winstonTrack.map(p=>xOf(p[0])+' '+yOf(p[1])).join('L'));
    tr1.setAttribute('fill', 'none');
    tr1.setAttribute('stroke', '#22ffff');
    tr1.setAttribute('stroke-width', '3');
    
    
    const tr2 = make('path', g);
    tr2.setAttribute('d', 'M'+yaloTrack.map(p=>xOf(p[0])+' '+yOf(p[1])).join('L'));
    tr2.setAttribute('fill', 'none');
    tr2.setAttribute('stroke', '#ff0000');
    tr2.setAttribute('stroke-width', '6');
    
    
    const n1 = addText(g, stormNames[0], 408, 141, 12, 57);
    n1.setAttribute('font-weight', 'bold');
    n1.setAttribute('stroke', '#fff');
    n1.setAttribute('stroke-width', '3');
    n1.setAttribute('paint-order', 'stroke');
    
    
    const n2 = addText(g, stormNames[1], 465, 140, 12, 32);
    n2.setAttribute('font-weight', 'bold');
    n2.setAttribute('stroke', '#fff');
    n2.setAttribute('stroke-width', '3');
    n2.setAttribute('paint-order', 'stroke');
    
    
  }
  if(idx===4){
    const cfs = addText(g, 'CFS Forecast', 1478, 32, 35, 213, 'end');
    
    
  }
});

/* ---------- COLORBAR ---------- */
const barColors = bandColorsNeg.slice().reverse().concat(['#f5f5f5']).concat(bandColorsPos);
const barG = make('g');


barColors.forEach(function(c, i){
  const r = make('rect', barG);
  r.setAttribute('x', 230+i*54.8);
  r.setAttribute('y', 940);
  r.setAttribute('width', 54.8);
  r.setAttribute('height', 21);
  r.setAttribute('fill', c);
  r.setAttribute('stroke', '#000');
  r.setAttribute('stroke-width', '1.4');
  
  
});
colorbarLabels.forEach(function(s, i){
  const t = addText(barG, s, 230+(i+1)*54.8+(s[0]==='-'?0:1), 989, 29, null, 'middle');
  
  
});
</script>

<script>
/* ---------- LEGEND AND FOOTER ---------- */
const stormCats = ["Cat-5","Cat-4","Cat-3","Cat-2","Cat-1","TS","TD"];
const stormColors = ['#ff00ff','#ff0000','#ffa500','#1a1aff','#22ffff','#444444','#999999'];
const stormWidths = [8,7,6,5,4,3,2];
const stormRows = [[1090,1153,961,1166,972],[1090,1153,993,1166,1003],[1090,1153,1024,1166,1035],[1316,1378,960,1391,970],[1316,1378,987,1391,997],[1314,1380,1015,1391,1024],[1314,1380,1042,1391,1051]];
stormCats.forEach(function(name, i){
  const row = stormRows[i];
  const l = addLine(svg, row[0], row[2], row[1], row[2], stormColors[i], stormWidths[i]);
  l.setAttribute('stroke-linecap', i<5 ? 'round' : 'butt');
  
  
  const t = addText(svg, name, row[3], row[4], 27, name.length>2 ? 64 : 34);
  
  
});
const unitsLabel = addText(svg, 'x10^6 m2 s-1', 854, 976, 31, 182);


const mainTitle = addText(svg, '5-day CHI850 with CFS forecasts', 223, 1074, 52, 764);


const siteText = addText(svg, 'monitor.cicsnc.org/mjo', 4, 1111, 21, 205);


const stampText = addText(svg, 'Mon 2016-03-14 1014 UTC', 667, 1111, 14, 176);


const authorText = addText(svg, 'Carl Schreck (cjschrec@ncsu.edu)', 1189, 1111, 21, 316);


</script>

<svg style="position:absolute;left:0;top:920px;font-family:'Liberation Sans',sans-serif" width="170" height="170" viewBox="0 920 170 170">
  <defs>
    <radialGradient id="logo-sky" cx="50%" cy="40%" r="65%">
      <stop offset="0%" stop-color="#23508f"/>
      <stop offset="55%" stop-color="#1f5aa8"/>
      <stop offset="100%" stop-color="#1d66c0"/>
    </radialGradient>
    <clipPath id="logo-clip"><circle cx="85" cy="1006" r="72"/></clipPath>
    <path id="logo-arc" d="M24 1030 A65 65 0 1 1 150 1002"/>
  </defs>
  <circle cx="85" cy="1006" r="72" fill="url(#logo-sky)"/>
  <g fill="none" stroke="#5f8cc4" stroke-width="1.6" stroke-dasharray="2 2" opacity="0.55">
    <path d="M34 1015 A50 50 0 0 1 134 1005"/>
    <path d="M48 1010 A36 36 0 0 1 120 1005"/>
    <path d="M62 1006 A22 22 0 0 1 106 1005"/>
  </g>
  <g clip-path="url(#logo-clip)">
    <path d="M13 1030 L19 1027 L40 1018 L50 1028 L56 1024 L62 1031 L75 1016 L84 1008 L92 1020 L100 1025 L111 1015 L120 1027 L130 1015 L140 1008 L157 995 L160 1082 L10 1082 Z" fill="#2f309b"/>
    <path d="M13 1030 L19 1027 L40 1018 L50 1028 L56 1024 L62 1031 L75 1016 L84 1008 L92 1020 L100 1025 L111 1015 L120 1027 L130 1015 L140 1008 L157 995" fill="none" stroke="#e8402a" stroke-width="1.5"/>
    <path d="M15 1050 Q85 1078 155 1050 L155 1085 L15 1085 Z" fill="#1f63bd"/>
  </g>
  <circle cx="138" cy="1003" r="5.5" fill="#f2b035"/>
  <text font-size="9" fill="#dfeaf7"><textPath href="#logo-arc" textLength="195" lengthAdjust="spacing">Cooperative Institute for Climate and Satellites</textPath></text>
  <text x="83" y="1056" font-size="35" fill="#f0b356" text-anchor="middle" textLength="102" lengthAdjust="spacingAndGlyphs">cics.nc</text>
</svg>
</body>
</html>
